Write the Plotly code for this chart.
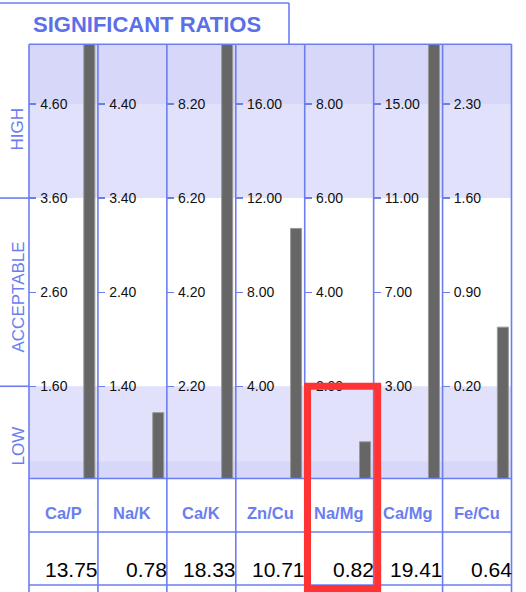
import plotly.graph_objects as go

# ---------------- data ----------------
title_text = "SIGNIFICANT RATIOS"
ratios = ["Ca/P", "Na/K", "Ca/K", "Zn/Cu", "Na/Mg", "Ca/Mg", "Fe/Cu"]
tick_values = [
    [1.60, 2.60, 3.60, 4.60],
    [1.40, 2.40, 3.40, 4.40],
    [2.20, 4.20, 6.20, 8.20],
    [4.00, 8.00, 12.00, 16.00],
    [2.00, 4.00, 6.00, 8.00],
    [3.00, 7.00, 11.00, 15.00],
    [0.20, 0.90, 1.60, 2.30],
]
ratio_values = [13.75, 0.78, 18.33, 10.71, 0.82, 19.41, 0.64]
# bar heights as read against each column's own scale
bar_levels = [13.75, 1.12, 18.33, 10.71, 0.82, 19.41, 0.64]
zone_labels = ["HIGH", "ACCEPTABLE", "LOW"]
highlight_index = 4

# ---------------- styling / geometry ----------------
W, H = 526, 592
BLUE = "#6a7ef0"
TITLE_BLUE = "#5b6fe9"
BAND_DARK = "#d7d7fa"
BAND_LIGHT = "#e1e1fb"
BAR = "#666666"
RED = "#ff3333"
FONT = "Liberation Sans, Arial, sans-serif"

left, right = 29.0, 511.5
col_w = (right - left) / len(ratios)
plot_top, plot_bot = 44.3, 478.5
row1_bot, row2_bot = 532.0, 585.0
LO_STEPS, HI_STEPS = 0.98, 0.634


def px(x):
    return x / W


def py(y):
    return 1 - y / H


def axis_range(t):
    s = t[1] - t[0]
    return [t[0] - LO_STEPS * s, t[-1] + HI_STEPS * s]


def ypix(col, v):
    lo, hi = axis_range(tick_values[col])
    return plot_bot - (v - lo) / (hi - lo) * (plot_bot - plot_top)


fig = go.Figure()
layout_axes = {}
for i, name in enumerate(ratios):
    xl = left + i * col_w
    xr = xl + col_w
    sfx = "" if i == 0 else str(i + 1)
    t = tick_values[i]
    lo, hi = axis_range(t)
    fig.add_trace(go.Bar(
        x=[0.875], y=[bar_levels[i] - lo], base=[lo], width=[0.16],
        marker=dict(color=BAR, line=dict(color="#9a9a9a", width=1)),
        xaxis="x" + sfx, yaxis="y" + sfx, showlegend=False, hoverinfo="skip",
    ))
    layout_axes["xaxis" + sfx] = dict(
        domain=[px(xl), px(xr)], range=[0, 1], visible=False, fixedrange=True,
        anchor="y" + sfx,
    )
    layout_axes["yaxis" + sfx] = dict(
        domain=[py(plot_bot), py(plot_top)], range=[lo, hi], anchor="x" + sfx,
        tickvals=t, ticktext=["%.2f" % v for v in t],
        ticks="inside", ticklen=7, tickwidth=1.3, tickcolor=BLUE,
        ticklabelposition="inside", ticklabelstandoff=4,
        showgrid=False, zeroline=False,
        showline=False, tickfont=dict(family=FONT, size=14, color="#111111"),
        fixedrange=True,
    )

shapes = []
t0 = tick_values[0]
s0 = t0[1] - t0[0]
band_specs = [
    (ypix(0, t0[2]), plot_top, BAND_LIGHT),
    (ypix(0, t0[3]), plot_top, BAND_DARK),
    (plot_bot, ypix(0, t0[0]), BAND_LIGHT),
    (plot_bot, ypix(0, t0[0] - 0.80 * s0), BAND_DARK),
]
for y0, y1, c in band_specs:
    shapes.append(dict(type="rect", xref="paper", yref="paper",
                       x0=px(left), x1=px(right), y0=py(y0), y1=py(y1),
                       fillcolor=c, line=dict(width=0), layer="below"))


def line(x0, y0, x1, y1, color=BLUE, width=1.6):
    shapes.append(dict(type="line", xref="paper", yref="paper",
                       x0=px(x0), y0=py(y0), x1=px(x1), y1=py(y1),
                       line=dict(color=color, width=width), layer="above"))


for i in range(len(ratios) + 1):
    x = left + i * col_w
    line(x, plot_top, x, H + 2)
for y in (plot_top, plot_bot, row1_bot, row2_bot):
    line(left, y, right, y)
line(0, ypix(0, t0[2]), left, ypix(0, t0[2]))
line(0, ypix(0, t0[0]), left, ypix(0, t0[0]))
line(-2, 3, 289, 3)
line(289, 3, 289, plot_top)

hx0 = left + highlight_index * col_w
shapes.append(dict(type="rect", xref="paper", yref="paper",
                   x0=px(hx0 + 2.8), x1=px(hx0 + col_w + 4), y0=py(386.3), y1=py(588.5),
                   line=dict(color=RED, width=7), fillcolor="rgba(0,0,0,0)", layer="above"))

annotations = []
annotations.append(dict(text="<b>%s</b>" % title_text, x=px(31), y=py(24), xref="paper", yref="paper",
                        xanchor="left", yanchor="middle", showarrow=False,
                        font=dict(family=FONT, size=22, color=TITLE_BLUE)))
zone_y = [129, 297, 446]
for lab, yy in zip(zone_labels, zone_y):
    annotations.append(dict(text=lab, x=px(17.5), y=py(yy), xref="paper", yref="paper",
                            xanchor="center", yanchor="middle", textangle=-90, showarrow=False,
                            font=dict(family=FONT, size=17, color=BLUE)))
for i, name in enumerate(ratios):
    xl = left + i * col_w
    annotations.append(dict(text="<b>%s</b>" % name, x=px(xl + col_w / 2), y=py(513),
                            xref="paper", yref="paper", xanchor="center", yanchor="middle",
                            showarrow=False, font=dict(family=FONT, size=16.5, color=BLUE)))
    annotations.append(dict(text="%.2f" % ratio_values[i], x=px(xl + col_w + 2.5), y=py(569.5),
                            xref="paper", yref="paper", xanchor="right", yanchor="middle",
                            showarrow=False, font=dict(family=FONT, size=21, color="#000000")))

fig.update_layout(
    width=W, height=H, margin=dict(l=0, r=0, t=0, b=0, pad=0, autoexpand=False),
    paper_bgcolor="white", plot_bgcolor="rgba(0,0,0,0)",
    shapes=shapes, annotations=annotations, bargap=0, showlegend=False,
    **layout_axes,
)
fig.write_html("out.html", config={"displayModeBar": False, "staticPlot": True},
               post_script="document.body.style.margin='0px';")
